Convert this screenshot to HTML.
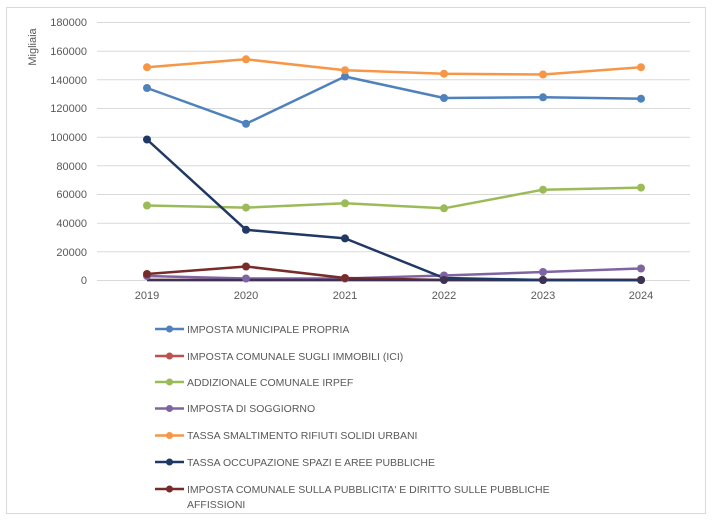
<!DOCTYPE html>
<html><head><meta charset="utf-8"><style>
body{margin:0;background:#fff;}
svg text{font-family:"Liberation Sans",sans-serif;fill:#595959;}
</style></head><body>
<svg width="713" height="522" xmlns="http://www.w3.org/2000/svg">
<rect x="6.5" y="7.5" width="699" height="506" fill="#fff" stroke="#d9d9d9"/>
<g stroke="#d9d9d9" stroke-width="1">
<line x1="97" x2="690" y1="22.5" y2="22.5"/><line x1="97" x2="690" y1="51.2" y2="51.2"/>
<line x1="97" x2="690" y1="79.8" y2="79.8"/><line x1="97" x2="690" y1="108.5" y2="108.5"/>
<line x1="97" x2="690" y1="137.2" y2="137.2"/><line x1="97" x2="690" y1="165.8" y2="165.8"/>
<line x1="97" x2="690" y1="194.5" y2="194.5"/><line x1="97" x2="690" y1="223.2" y2="223.2"/>
<line x1="97" x2="690" y1="251.8" y2="251.8"/><line x1="97" x2="690" y1="280.5" y2="280.5"/>
</g>
<g font-size="11" text-anchor="end">
<text x="87" y="26">180000</text><text x="87" y="55">160000</text><text x="87" y="84">140000</text>
<text x="87" y="112">120000</text><text x="87" y="141">100000</text><text x="87" y="170">80000</text>
<text x="87" y="198">60000</text><text x="87" y="227">40000</text><text x="87" y="256">20000</text>
<text x="87" y="284">0</text>
</g>
<text x="36" y="47" font-size="11" transform="rotate(-90 36 47)" text-anchor="middle">Migliaia</text>
<g font-size="11" text-anchor="middle">
<text x="147" y="299">2019</text><text x="246" y="299">2020</text><text x="345" y="299">2021</text>
<text x="444" y="299">2022</text><text x="543" y="299">2023</text><text x="641" y="299">2024</text>
</g>
<g fill="none" stroke-width="2.5" stroke-linejoin="round">
<polyline stroke="#c0504d" points="147,280 246,280 345,280 444,280 543,280 641,280"/>
<polyline stroke="#8064a2" points="147,276 246,278.5 345,278.5 444,275.5 543,272 641,268.5"/>
<polyline stroke="#772c2a" points="147,274 246,266.5 345,278 444,280 543,280 641,280"/>
<polyline stroke="#3f3151" points="147,280 246,280 345,280 444,280 543,280 641,280"/>
<polyline stroke="#9bbb59" points="147,205.5 246,207.6 345,203.3 444,208.3 543,189.7 641,187.6"/>
<polyline stroke="#1f3864" points="147,139.5 246,229.8 345,238.4 444,278 543,280 641,280"/>
<polyline stroke="#4f81bd" points="147,88 246,123.8 345,76.5 444,98 543,97.3 641,98.7"/>
<polyline stroke="#f79646" points="147,67.2 246,59.3 345,70.2 444,73.7 543,74.5 641,67.2"/>
</g>
<g fill="#4f81bd"><circle cx="147" cy="88" r="4"/><circle cx="246" cy="123.8" r="4"/><circle cx="345" cy="76.5" r="4"/><circle cx="444" cy="98" r="4"/><circle cx="543" cy="97.3" r="4"/><circle cx="641" cy="98.7" r="4"/></g>
<g fill="#f79646"><circle cx="147" cy="67.2" r="4"/><circle cx="246" cy="59.3" r="4"/><circle cx="345" cy="70.2" r="4"/><circle cx="444" cy="73.7" r="4"/><circle cx="543" cy="74.5" r="4"/><circle cx="641" cy="67.2" r="4"/></g>
<g fill="#9bbb59"><circle cx="147" cy="205.5" r="4"/><circle cx="246" cy="207.6" r="4"/><circle cx="345" cy="203.3" r="4"/><circle cx="444" cy="208.3" r="4"/><circle cx="543" cy="189.7" r="4"/><circle cx="641" cy="187.6" r="4"/></g>
<g fill="#1f3864"><circle cx="147" cy="139.5" r="4"/><circle cx="246" cy="229.8" r="4"/><circle cx="345" cy="238.4" r="4"/><circle cx="444" cy="278" r="4"/><circle cx="543" cy="280" r="4"/><circle cx="641" cy="280" r="4"/></g>
<g fill="#8064a2"><circle cx="147" cy="276" r="4"/><circle cx="246" cy="278.5" r="4"/><circle cx="345" cy="278.5" r="4"/><circle cx="444" cy="275.5" r="4"/><circle cx="543" cy="272" r="4"/><circle cx="641" cy="268.5" r="4"/></g>
<g fill="#772c2a"><circle cx="147" cy="274" r="4"/><circle cx="246" cy="266.5" r="4"/><circle cx="345" cy="278" r="4"/></g>
<g fill="#3f3151"><circle cx="444" cy="280" r="4"/><circle cx="543" cy="280" r="4"/><circle cx="641" cy="280" r="4"/></g>
<g stroke-width="2.5">
<line x1="155" x2="184" y1="329" y2="329" stroke="#4f81bd"/><circle cx="169.5" cy="329" r="3.5" fill="#4f81bd"/>
<line x1="155" x2="184" y1="356" y2="356" stroke="#c0504d"/><circle cx="169.5" cy="356" r="3.5" fill="#c0504d"/>
<line x1="155" x2="184" y1="382" y2="382" stroke="#9bbb59"/><circle cx="169.5" cy="382" r="3.5" fill="#9bbb59"/>
<line x1="155" x2="184" y1="408.5" y2="408.5" stroke="#8064a2"/><circle cx="169.5" cy="408.5" r="3.5" fill="#8064a2"/>
<line x1="155" x2="184" y1="435.5" y2="435.5" stroke="#f79646"/><circle cx="169.5" cy="435.5" r="3.5" fill="#f79646"/>
<line x1="155" x2="184" y1="462" y2="462" stroke="#1f3864"/><circle cx="169.5" cy="462" r="3.5" fill="#1f3864"/>
<line x1="155" x2="184" y1="489" y2="489" stroke="#772c2a"/><circle cx="169.5" cy="489" r="3.5" fill="#772c2a"/>
</g>
<g font-size="10.5">
<text x="187" y="333">IMPOSTA MUNICIPALE PROPRIA</text>
<text x="187" y="360">IMPOSTA COMUNALE SUGLI IMMOBILI (ICI)</text>
<text x="187" y="386">ADDIZIONALE COMUNALE IRPEF</text>
<text x="187" y="412">IMPOSTA DI SOGGIORNO</text>
<text x="187" y="439">TASSA SMALTIMENTO RIFIUTI SOLIDI URBANI</text>
<text x="187" y="466">TASSA OCCUPAZIONE SPAZI E AREE PUBBLICHE</text>
<text x="187" y="493">IMPOSTA COMUNALE SULLA PUBBLICITA' E DIRITTO SULLE PUBBLICHE</text>
<text x="187" y="508">AFFISSIONI</text>
</g>
</svg>
</body></html>
